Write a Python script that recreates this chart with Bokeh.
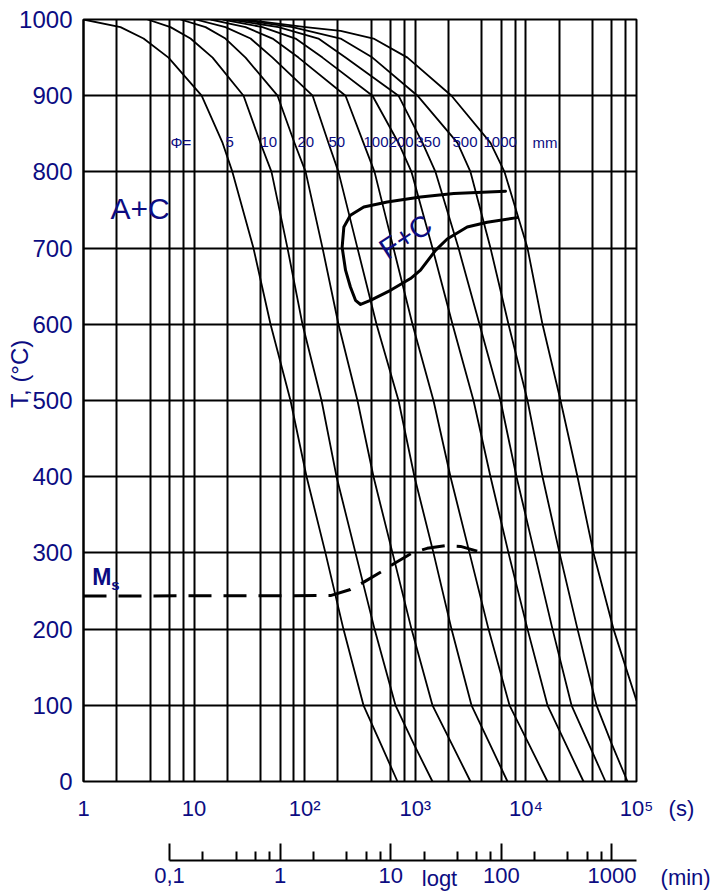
import math
from bokeh.plotting import figure
from bokeh.models import Range1d, FixedTicker, Label, ColumnDataSource, LogAxis
from bokeh.layouts import column
from bokeh.embed import file_html
from bokeh.resources import INLINE
from bokeh.core.properties import value

NAVY = "#0c0c82"
FONT = "Liberation Sans"

# ---------------- data (time in s, temperature in °C) ----------------
diameters = ["5", "10", "20", "50", "100", "200", "350", "500", "1000"]
temps_std = [1000, 990, 975, 950, 900, 838, 800, 700, 600, 500, 400, 300, 200, 100, 50, 0]

t_d5 = [1, 2.16, 3.49, 5.87, 11.7, 18.1, 22.2, 34.4, 49.1, 74.4, 104, 154, 224, 340, 485, 690]
t_d10 = [3.79, 6.12, 9.28, 14.7, 28.0, 39.8, 50.1, 69.9, 95.5, 142, 194, 288, 428, 662, 963, 1430]
t_d20 = [7.53, 12.7, 19.2, 29.2, 56.8, 80.9, 102, 145, 202, 300, 419, 622, 924, 1430, 2125, 3155]
t_d50 = [10.3, 19.2, 32.4, 51.2, 118, 164, 202, 300, 446, 705, 983, 1460, 2125, 3222, 4688, 6818]
t_d100 = [14.1, 29.2, 51.2, 87.9, 234, 340, 428, 635, 943, 1460, 2081, 3091, 4590, 7110, 10560, 15680]
t_d200 = [18.1, 41.5, 82.6, 145, 410, 705, 924, 1430, 2170, 3360, 4786, 6960, 10340, 15680, 22810, 33180]
t_d350 = [21.3, 58.0, 133, 234, 705, 1162, 1523, 2458, 3806, 5893, 8222, 11960, 17400, 25850, 36810, 52450]
t_d500 = [25.2, 77.6, 211, 410, 1047, 2407, 3155, 4786, 6960, 10340, 14130, 20130, 29280, 43500, 59430, 82900]
t_d1000 = [29.2, 102, 211, 419, 850, 2125, 4786, 6407, 10340, 14130, 20560, 29280, 40860, 61950, 100000]
T_d1000 = [1000, 990, 985, 975, 950, 900, 838, 800, 700, 600, 500, 400, 300, 200, 106]

# F+C transformation region boundary (open on the right)
fc_t = [6540, 2229, 1114, 557, 342, 259, 226, 218, 234, 259, 288, 320, 393, 597, 905,
        1114, 1523, 1943, 2946, 4468, 8342]
fc_T = [774.6, 771.6, 767, 760.6, 754, 743, 727.7, 701, 671, 649, 631.5, 626, 631.5,
        644.6, 660, 671, 697, 712, 727.7, 734, 740]

# Ms line
ms_t = [1, 171, 259, 342, 502, 639, 938, 1281, 1876, 2563, 3628]
ms_T = [243.4, 244, 252, 261.6, 276, 285.8, 300, 306, 309.4, 308.5, 302.3]

# axis ticks / labels
y_ticks = [0, 100, 200, 300, 400, 500, 600, 700, 800, 900, 1000]
x_ticks = [1, 10, 100, 1000, 10000, 100000]
x_tick_labels = ["1", "10", "10²", "10³", "10⁴", "10⁵"]
x_grid = [1, 2, 4, 6, 8, 10, 20, 40, 60, 80, 100, 200, 400, 600, 800, 1000,
          2000, 4000, 6000, 8000, 10000, 20000, 40000, 60000, 80000, 100000]
min_ticks = [0.1, 1, 10, 100, 1000]
min_tick_labels = ["0,1", "1", "10", "100", "1000"]
min_minor = [0.2, 0.4, 0.6, 0.8, 2, 4, 6, 8, 20, 40, 60, 80, 200, 400, 600, 800]

phi_texts = ["Φ=", "5", "10", "20", "50", "100", "200", "350", "500", "1000", "mm"]
phi_x = [6.12, 19.2, 39.8, 86.1, 164, 340, 572, 1004, 2170, 4136, 11470]
phi_y = 839

# ---------------- layout geometry ----------------
W = 715
FL, FR = 83, 79          # frame borders left/right (px)
FT = 19                  # frame top
H1 = 795                 # main figure height (frame bottom at 781)
H2 = 96                  # lower (time-axes) figure height
FRAME_W = W - FL - FR    # 553 px for 5 decades

# ---------------- main figure ----------------
p = figure(width=W, height=H1, x_axis_type="log",
           x_range=Range1d(1, 1e5), y_range=Range1d(0, 1000),
           output_backend="svg", toolbar_location=None,
           min_border_left=FL, min_border_right=FR, min_border_top=FT,
           min_border_bottom=H1 - 781,
           background_fill_color="white", border_fill_color="white")
p.outline_line_color = "black"
p.outline_line_width = 2
p.outline_line_alpha = 1
p.xaxis.visible = False

ya = p.yaxis[0]
ya.ticker = FixedTicker(ticks=y_ticks, minor_ticks=[])
ya.major_tick_in = 0
ya.major_tick_out = 0
ya.minor_tick_in = 0
ya.minor_tick_out = 0
ya.axis_line_color = "black"
ya.axis_line_width = 2
ya.major_label_text_color = NAVY
ya.major_label_text_font = FONT
ya.major_label_text_font_size = "24px"
ya.major_label_standoff = 11
ya.axis_label = "\u00a0" * 8 + "T, (°C)"
ya.axis_label_text_font = FONT
ya.axis_label_text_font_size = "24px"
ya.axis_label_text_font_style = "normal"
ya.axis_label_text_color = NAVY
ya.axis_label_standoff = -17

p.xgrid.ticker = FixedTicker(ticks=x_grid, minor_ticks=[])
p.ygrid.ticker = FixedTicker(ticks=y_ticks, minor_ticks=[])
for g in (p.xgrid[0], p.ygrid[0]):
    g.grid_line_color = "black"
    g.grid_line_width = 2
    g.grid_line_alpha = 1

curves = [t_d5, t_d10, t_d20, t_d50, t_d100, t_d200, t_d350, t_d500]
for tt in curves:
    p.line(tt, temps_std, line_color="black", line_width=1.8, line_join="round")
p.line(t_d1000, T_d1000, line_color="black", line_width=1.8, line_join="round")

p.line(fc_t, fc_T, line_color="black", line_width=3, line_join="round", line_cap="round")
p.line(ms_t, ms_T, line_color="black", line_width=3, line_dash="23 12")

src = ColumnDataSource(dict(x=phi_x, y=[phi_y] * len(phi_x), text=phi_texts))
p.text(x="x", y="y", text="text", source=src, text_font=value(FONT),
       text_font_size="15px", text_color=NAVY, text_align="left", text_baseline="middle")


def lab(fig, x, y, text, size, **kw):
    opts = dict(text_font=FONT, text_font_size=size, text_color=NAVY,
                text_align="left", text_baseline="middle")
    opts.update(kw)
    fig.add_layout(Label(x=x, y=y, text=text, **opts))


lab(p, 1.754, 752, "A+C", "30px")
lab(p, 815, 715, "F+C", "29px", text_align="center", angle=math.radians(33))
lab(p, 1.2, 269, "M", "23px", text_font_style="bold")
lab(p, 1.78, 258, "s", "15px", text_font_style="bold")

# ---------------- time axes (seconds labels + minutes scale) ----------------
# x range chosen so that its pixel scale matches the main frame exactly
decades_per_px = 5 / FRAME_W
x_lo = 10 ** (-FL * decades_per_px)
x_hi = 10 ** (5 + FR * decades_per_px)
p2 = figure(width=W, height=H2, x_axis_type="log",
            x_range=Range1d(x_lo, x_hi), y_range=Range1d(0, H2),
            output_backend="svg", toolbar_location=None, y_axis_location=None,
            min_border_left=0, min_border_right=0, min_border_top=0, min_border_bottom=0,
            background_fill_color="white", border_fill_color="white")
p2.outline_line_color = None
p2.grid.visible = False
for fig in (p, p2):
    try:
        fig.frame_align = False
    except Exception:
        pass

# seconds axis (labels only; its line is the frame's bottom edge)
ax_s = p2.xaxis[0]
ax_s.fixed_location = H2
ax_s.ticker = FixedTicker(ticks=x_ticks, minor_ticks=[])
ax_s.major_label_overrides = {k: v for k, v in zip(x_ticks, x_tick_labels)}
ax_s.axis_line_color = None
ax_s.major_tick_line_color = None
ax_s.minor_tick_line_color = None
ax_s.major_tick_out = 0
ax_s.major_tick_in = 0
ax_s.minor_tick_out = 0
ax_s.minor_tick_in = 0
ax_s.major_label_text_font = FONT
ax_s.major_label_text_font_size = "22px"
ax_s.major_label_text_color = NAVY
ax_s.major_label_standoff = 0

# minutes axis
min_ticks_s = [int(round(m * 60)) for m in min_ticks]
min_minor_s = [int(round(m * 60)) for m in min_minor]
ax_m = LogAxis(fixed_location=31)
ax_m.ticker = FixedTicker(ticks=min_ticks_s, minor_ticks=min_minor_s)
ax_m.major_label_overrides = {k: v for k, v in zip(min_ticks_s, min_tick_labels)}
ax_m.bounds = (min_ticks_s[0], 1e5)
ax_m.axis_line_color = "black"
ax_m.axis_line_width = 2
ax_m.major_tick_in = 17
ax_m.major_tick_out = 0
ax_m.minor_tick_in = 9
ax_m.minor_tick_out = 0
ax_m.major_tick_line_width = 2
ax_m.minor_tick_line_width = 2
ax_m.major_tick_line_color = "black"
ax_m.minor_tick_line_color = "black"
ax_m.major_label_text_font = FONT
ax_m.major_label_text_font_size = "22px"
ax_m.major_label_text_color = NAVY
ax_m.major_label_standoff = 7
p2.add_layout(ax_m, "below")

lab(p2, 1.95e5, 83, "(s)", "22px")
lab(p2, 1.65e5, 14, "(min)", "22px")
lab(p2, 1655, 13, "logt", "22px", text_align="center")

layout = column(p, p2)
open("out.html", "w").write(file_html(layout, INLINE))
